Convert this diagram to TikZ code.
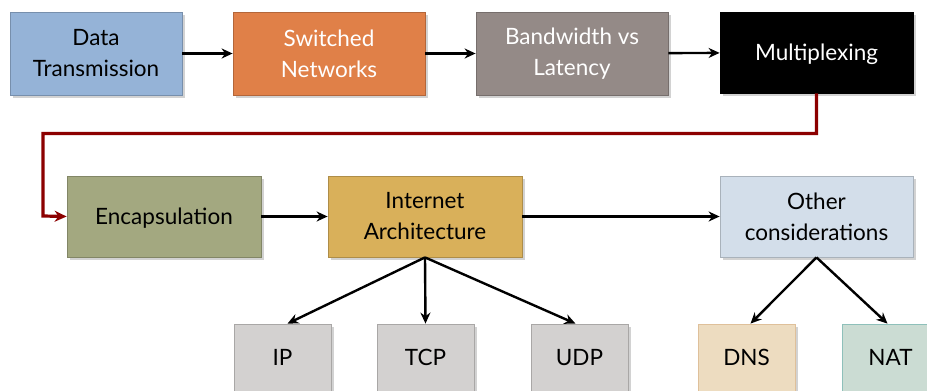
\documentclass[tikz,border=0pt]{standalone}
\usepackage{fontspec}
\setmainfont{Lato}
\usetikzlibrary{arrows.meta,shadows,positioning}

\definecolor{cData}{RGB}{149,179,215}
\definecolor{cSwitch}{RGB}{224,128,72}
\definecolor{cBand}{RGB}{148,138,135}
\definecolor{cEncap}{RGB}{163,168,128}
\definecolor{cInet}{RGB}{217,176,90}
\definecolor{cOther}{RGB}{211,222,234}
\definecolor{cProto}{RGB}{211,209,208}
\definecolor{cDNS}{RGB}{237,220,192}
\definecolor{cNAT}{RGB}{203,220,211}
\definecolor{cLoop}{RGB}{140,0,0}

\tikzset{
  box/.style={draw=#1!80!black, fill=#1, line width=0.8pt, rectangle,
    inner sep=0pt, align=center, font=\fontsize{22.5}{31}\selectfont,
    drop shadow={shadow xshift=2.5pt, shadow yshift=-3pt, opacity=0.35}},
  oneline/.style={text height=16pt, text depth=0pt},
  leaf/.style={box=#1, minimum width=97pt, minimum height=90pt,
    text height=16pt, text depth=24pt},
  flow/.style={-{Stealth[length=11pt,width=10pt]}, line width=2.4pt, black},
  loop/.style={-{Stealth[length=12pt,width=11pt]}, line width=3.2pt, cLoop},
}

\begin{document}
\begin{tikzpicture}[x=1pt,y=-1pt]
\useasboundingbox (0,0) rectangle (927,391);
\fill[white] (0,0) rectangle (927,391);
\clip (0,0) rectangle (927,391);

% top row
\node[box=cData, minimum width=172pt, minimum height=83pt] (data) at (96,53.5) {Data\\Transmission};
\node[box=cSwitch, text=white, minimum width=192pt, minimum height=83pt] (switch) at (329,53.5) {Switched\\Networks};
\node[box=cBand, text=white, minimum width=192pt, minimum height=83pt] (band) at (572,53.5) {Bandwidth vs\\Latency};
\node[box=black, draw=black, text=white, oneline, minimum width=193pt, minimum height=81pt] (mux) at (816.5,52.5) {Multiplexing};

% middle row
\node[box=cEncap, oneline, minimum width=194pt, minimum height=81pt] (encap) at (164,216.5) {Encapsulation};
\node[box=cInet, minimum width=194pt, minimum height=81pt] (inet) at (425,216.5) {Internet\\Architecture};
\node[box=cOther, minimum width=193pt, minimum height=81pt] (other) at (816.5,216.5) {Other\\considerations};

% bottom row (running off the lower edge)
\node[leaf=cProto] (ip) at (282.5,369) {IP};
\node[leaf=cProto] (tcp) at (425.5,369) {TCP};
\node[leaf=cProto] (udp) at (579.5,369) {UDP};
\node[leaf=cDNS, draw=cDNS!70!brown] (dns) at (746.5,369) {DNS};
\node[leaf=cNAT, draw=cNAT!70!teal] (nat) at (890.5,369) {NAT};

% connectors along the rows
\draw[flow] (data) -- (switch);
\draw[flow] (switch) -- (band);
\draw[flow] (band) -- (mux);
\draw[loop] (mux.south) -- ++(0,40) -| (43,216) -- (encap.west);
\draw[flow] (encap) -- (inet);
\draw[flow] (inet) -- (other);

% branches
\draw[flow] (inet.south) -- ([xshift=5pt]ip.north);
\draw[flow] (inet.south) -- (tcp.north);
\draw[flow] (inet.south) -- ([xshift=-4pt]udp.north);
\draw[flow] (other.south) -- ([xshift=4pt]dns.north);
\draw[flow] (other.south) -- ([xshift=-3pt]nat.north);
\end{tikzpicture}
\end{document}
